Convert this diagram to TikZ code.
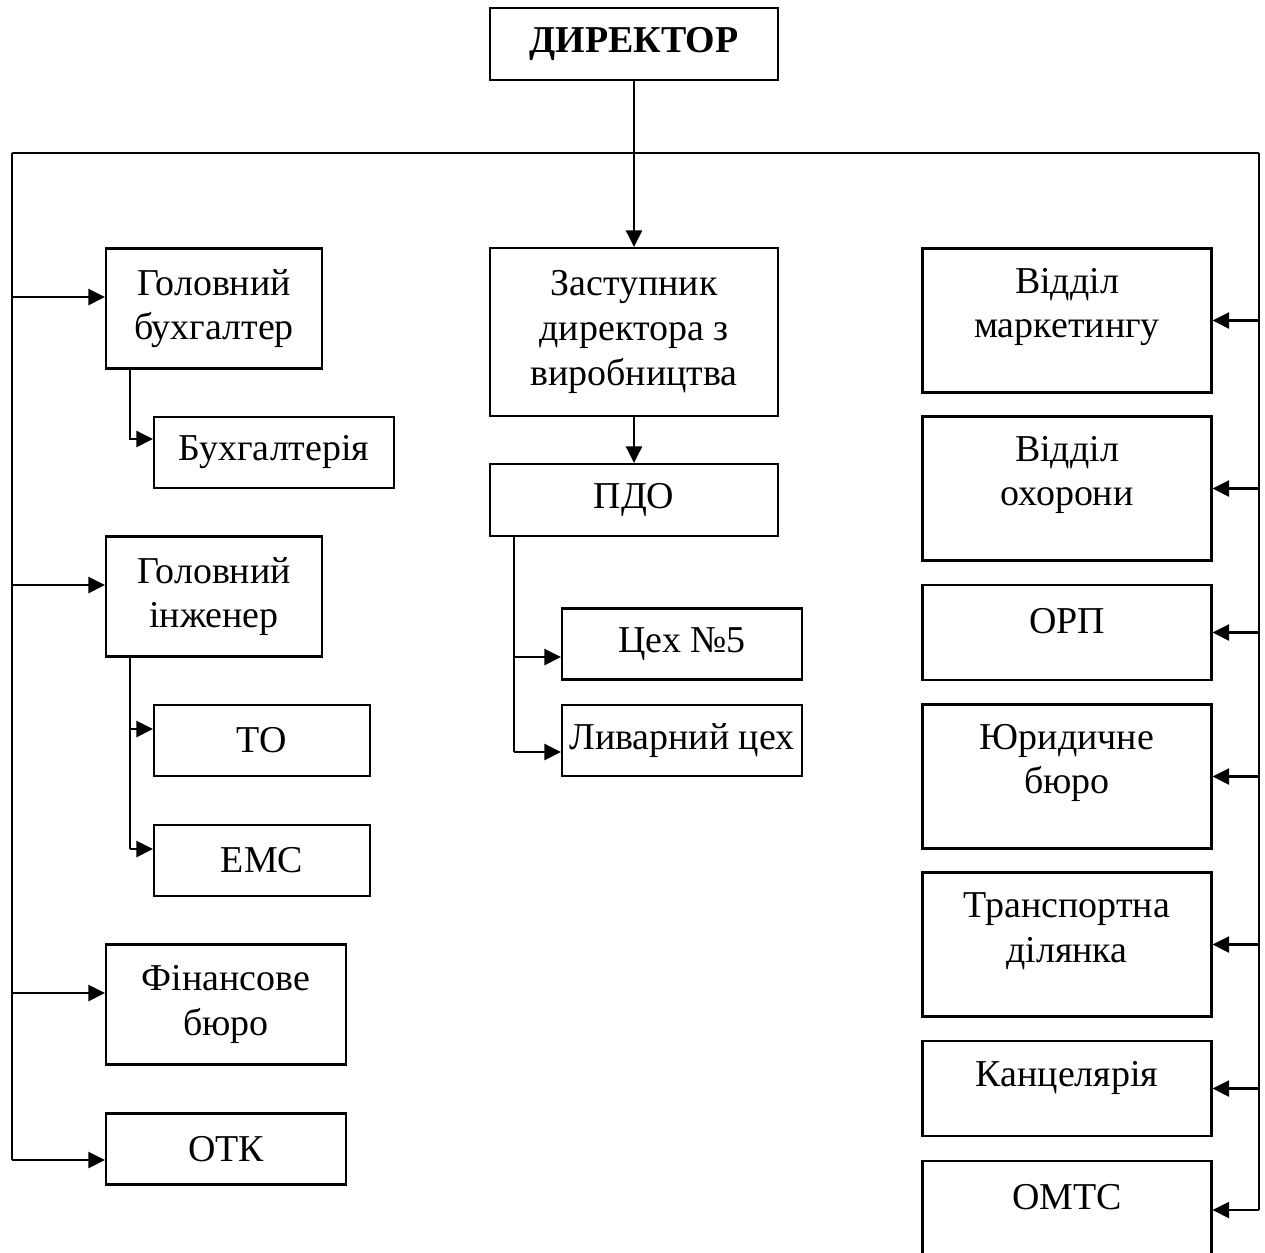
\documentclass[tikz,border=0pt]{standalone}
\usepackage{fontspec}
\setmainfont{Liberation Serif}
\usetikzlibrary{arrows.meta}

\begin{document}
\begin{tikzpicture}[x=0.02cm,y=-0.02cm,
    line width=1.2pt,
    >={Triangle[length=3.3mm,width=3.2mm]},
    box/.style={draw,align=center,inner sep=0pt,
        font=\fontsize{21.6}{25.5}\selectfont},
    lbl/.style={align=center,inner sep=0pt,
        font=\fontsize{21.6}{25.5}\selectfont},
    small/.style={box,minimum width=4.32cm,minimum height=1.42cm},
    wide/.style={box,minimum width=4.8cm,minimum height=1.42cm},
    right/.style={box,minimum width=5.78cm}]
        \useasboundingbox (0,0) rectangle (1265,1252);
        \clip (0,0) rectangle (1265,1252);

        % top
        \node[box,minimum width=5.76cm,minimum height=1.44cm,font=\fontsize{21.6}{25.5}\selectfont\bfseries] (dir) at (634,44) {ДИРЕКТОР};
        \node[box,minimum width=5.76cm,minimum height=3.36cm] (zast) at (634,332) {Заступник\\директора з\\виробництва};
        \node[box,minimum width=5.76cm,minimum height=1.44cm] (pdo) at (634,500) {ПДО};
        \node[wide] (cex) at (682,644) {Цех №5};
        \node[wide] (liv) at (682,740.5) {Ливарний цех};

        % left column
        \node[box,minimum width=4.32cm,minimum height=2.4cm] (gbuh) at (214,308.5) {Головний\\бухгалтер};
        \node[wide] (buh) at (274,452.5) {Бухгалтерія};
        \node[box,minimum width=4.32cm,minimum height=2.4cm] (gin) at (214,596.5) {Головний\\інженер};
        \node[small] (to) at (262,740.5) {ТО};
        \node[small] (ems) at (262,860.5) {ЕМС};
        \node[box,minimum width=4.8cm,minimum height=2.4cm] (fin) at (226,1004.5) {Фінансове\\бюро};
        \node[wide] (otk) at (226,1149) {ОТК};

        % right column
        \node[right,minimum height=2.88cm] (mkt) at (1067,320.5) {};
        \node[right,minimum height=2.88cm] (okh) at (1067,488.5) {};
        \node[right,minimum height=1.9cm] (orp) at (1067,632.5) {};
        \node[right,minimum height=2.88cm] (yur) at (1067,776.5) {};
        \node[right,minimum height=2.88cm] (tra) at (1067,944.5) {};
        \node[right,minimum height=1.9cm] (kan) at (1067,1088.5) {};
        \node[right,minimum height=2.0cm] (omts) at (1067,1211) {};
        \node[lbl] at ([yshift=0.27cm]mkt.center) {Відділ\\маркетингу};
        \node[lbl] at ([yshift=0.27cm]okh.center) {Відділ\\охорони};
        \node[lbl] at ([yshift=0.22cm]orp.center) {ОРП};
        \node[lbl] at ([yshift=0.27cm]yur.center) {Юридичне\\бюро};
        \node[lbl] at ([yshift=0.27cm]tra.center) {Транспортна\\ділянка};
        \node[lbl] at ([yshift=0.22cm]kan.center) {Канцелярія};
        \node[lbl] at ([yshift=0.28cm]omts.center) {ОМТС};

        % buses
        \coordinate (ltop) at (12,153);
        \coordinate (rtop) at (1259,153);
        \coordinate (lend) at (12,1160);
        \coordinate (rend) at (1259,1210);
        \draw (ltop) -- (rtop);
        \draw (ltop) -- (lend);
        \draw (rtop) -- (rend);
        \draw[->] (dir) -- (zast);
        \draw[->] (zast) -- (pdo);

        % left taps
        \coordinate (l1) at (12,297);
        \coordinate (l2) at (12,585);
        \coordinate (l3) at (12,993);
        \draw[->] (l1) -- (l1 -| gbuh.west);
        \draw[->] (l2) -- (l2 -| gin.west);
        \draw[->] (l3) -- (l3 -| fin.west);
        \draw[->] (lend) -- (lend -| otk.west);

        % sub units
        \coordinate (b1) at (130,439);
        \draw[->] (b1 |- gbuh.south) -- (b1) -- (b1 -| buh.west);
        \coordinate (e1) at (130,729);
        \coordinate (e2) at (130,849);
        \draw (e1 |- gin.south) -- (e2);
        \draw[->] (e1) -- (e1 -| to.west);
        \draw[->] (e2) -- (e2 -| ems.west);
        \coordinate (p1) at (514,657);
        \coordinate (p2) at (514,752);
        \draw (p1 |- pdo.south) -- (p2);
        \draw[->] (p1) -- (p1 -| cex.west);
        \draw[->] (p2) -- (p2 -| liv.west);

        % right taps
        \draw[->] (rtop |- mkt.east) -- (mkt.east);
        \draw[->] (rtop |- okh.east) -- (okh.east);
        \draw[->] (rtop |- orp.east) -- (orp.east);
        \draw[->] (rtop |- yur.east) -- (yur.east);
        \draw[->] (rtop |- tra.east) -- (tra.east);
        \draw[->] (rtop |- kan.east) -- (kan.east);
        \draw[->] (rend) -- (rend -| omts.east);
\end{tikzpicture}
\end{document}
